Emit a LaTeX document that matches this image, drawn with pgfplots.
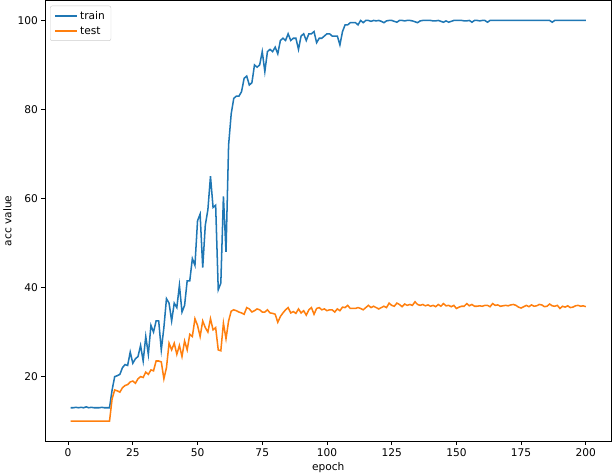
\documentclass[border=0pt]{standalone}
\usepackage{pgfplots}
\pgfplotsset{compat=1.18}
\usepackage{pgfplotstable}
\usepackage{fontspec}
\setmainfont{DejaVu Sans}
\definecolor{tabblue}{HTML}{1F77B4}
\definecolor{taborange}{HTML}{FF7F0E}
\pgfplotstableread{
ep train test
1 13.0 10
2 13.0 10
3 13.1 10
4 13.0 10
5 13.1 10
6 13.0 10
7 13.2 10
8 13.0 10
9 13.1 10
10 13.0 10
11 13.0 10
12 13.0 10
13 13.1 10
14 13.0 10
15 13.0 10
16 13.0 10
17 17.0 15.0
18 20.0 17.0
19 20.2 16.8
20 20.5 16.5
21 22.0 17.5
22 22.7 18.0
23 22.5 18.2
24 25.5 18.8
25 23.0 19.0
26 24.0 18.5
27 24.5 19.5
28 27.0 20.0
29 23.5 19.8
30 29.0 21.0
31 25.0 20.5
32 31.5 21.5
33 30.0 21.3
34 32.5 23.5
35 32.5 23.5
36 26.0 23.3
37 31.0 19.5
38 37.5 22.0
39 36.5 27.5
40 32.5 26.0
41 36.5 27.5
42 35.5 25.0
43 40.5 27.0
44 34.5 24.5
45 36.0 28.0
46 41.5 26.0
47 41.5 29.5
48 46.5 29.0
49 45.0 33.0
50 55.0 31.5
51 56.5 29.0
52 44.5 32.5
53 54.0 31.0
54 57.5 30.0
55 65.0 33.0
56 58.0 30.5
57 58.5 31.0
58 39.5 26.0
59 41.0 25.8
60 60.5 32.0
61 48.0 28.5
62 72.0 32.5
63 79.0 34.7
64 82.5 35.0
65 83.0 34.8
66 83.0 34.5
67 84.0 34.3
68 87.0 34.0
69 87.5 35.5
70 85.5 35.2
71 86.0 34.5
72 90.0 34.8
73 89.5 35.2
74 90.0 35.0
75 93.0 34.5
76 88.5 34.5
77 93.0 35.0
78 93.5 34.3
79 93.0 34.2
80 94.0 34.0
81 92.5 32.2
82 95.5 33.5
83 96.0 34.3
84 95.5 35.0
85 97.0 35.5
86 95.5 34.3
87 96.0 34.6
88 96.0 34.2
89 93.5 35.2
90 96.5 34.3
91 97.0 34.8
92 95.5 33.8
93 97.0 35.0
94 97.0 35.5
95 97.5 34.0
96 95.0 35.3
97 96.0 35.5
98 96.0 35.0
99 96.5 35.2
100 97.0 34.8
101 97.0 35.0
102 96.5 35.0
103 96.5 34.5
104 96.5 35.2
105 94.5 34.8
106 97.5 35.6
107 99.0 35.5
108 99.0 36.0
109 99.5 35.3
110 99.5 35.3
111 99.5 35.3
112 99.0 35.5
113 100 35.3
114 99.5 35.0
115 100 35.5
116 100 36.0
117 99.8 35.5
118 100 35.8
119 99.9 35.5
120 100 35.2
121 99.8 35.5
122 99.5 35.8
123 99.9 35.5
124 100 36.5
125 100 36.0
126 99.8 35.8
127 99.6 36.5
128 100 36.2
129 100 35.7
130 99.9 36.3
131 100 36.0
132 100 36.2
133 99.9 36.0
134 99.7 36.8
135 99.5 36.2
136 99.9 36.0
137 100 36.2
138 100 35.9
139 100 36.1
140 100 35.8
141 99.9 36.0
142 99.9 35.7
143 100 36.2
144 99.8 35.8
145 99.6 36.4
146 99.9 35.9
147 99.6 36.0
148 99.8 35.7
149 100 36.0
150 100 35.3
151 100 35.6
152 100 35.8
153 99.9 35.8
154 99.9 36.4
155 100 35.9
156 99.6 36.2
157 100 35.8
158 100 35.8
159 99.9 35.9
160 100 35.8
161 100 36.0
162 99.6 36.0
163 100 35.7
164 100 36.4
165 100 36.0
166 100 36.1
167 100 35.8
168 100 35.9
169 100 36.0
170 100 35.9
171 100 36.1
172 100 36.2
173 100 36.0
174 100 35.6
175 100 35.4
176 100 35.7
177 100 36.0
178 100 35.7
179 100 36.1
180 100 35.8
181 100 35.9
182 100 36.2
183 100 36.1
184 100 35.7
185 100 35.8
186 100 36.3
187 99.6 35.9
188 100 35.8
189 100 36.0
190 100 35.3
191 100 35.8
192 100 35.6
193 100 35.9
194 100 35.5
195 100 35.6
196 100 35.9
197 100 36.0
198 100 35.8
199 100 35.9
200 100 35.7
}\data
\begin{document}
\begin{tikzpicture}[x=1bp,y=1bp]
\begin{axis}[
  scale only axis,
  width=558bp, height=434bp,
  xmin=-8.95, xmax=209.95,
  ymin=5.5, ymax=104.5,
  xtick={0,25,...,200},
  ytick={20,40,60,80,100},
  tick align=outside,
  tick pos=left,
  major tick length=3.5bp,
  tick style={black, line width=0.8bp},
  axis line style={line width=0.8bp},
  /pgf/number format/assume math mode=true,
  ticklabel style={font=\fontsize{10.5}{12}\selectfont},
  label style={font=\fontsize{10.5}{12}\selectfont},
  xlabel={epoch},
  ylabel={acc value},
  xlabel style={yshift=1bp},
  ylabel style={yshift=-1bp},
  legend style={at={(0.009,0.988)}, anchor=north west, draw=black!20, rounded corners=2bp, font=\fontsize{10.5}{13}\selectfont, inner xsep=4bp, inner ysep=3bp, row sep=2bp},
  legend cell align=left,
  legend image code/.code={\draw[#1, line width=1.5bp] (0bp,0bp) -- (22bp,0bp);},
]
\addplot[tabblue, line width=1.5bp, no marks] table[x=ep, y=train] {\data};
\addlegendentry{train}
\addplot[taborange, line width=1.5bp, no marks] table[x=ep, y=test] {\data};
\addlegendentry{test}
\end{axis}
\end{tikzpicture}
\end{document}
